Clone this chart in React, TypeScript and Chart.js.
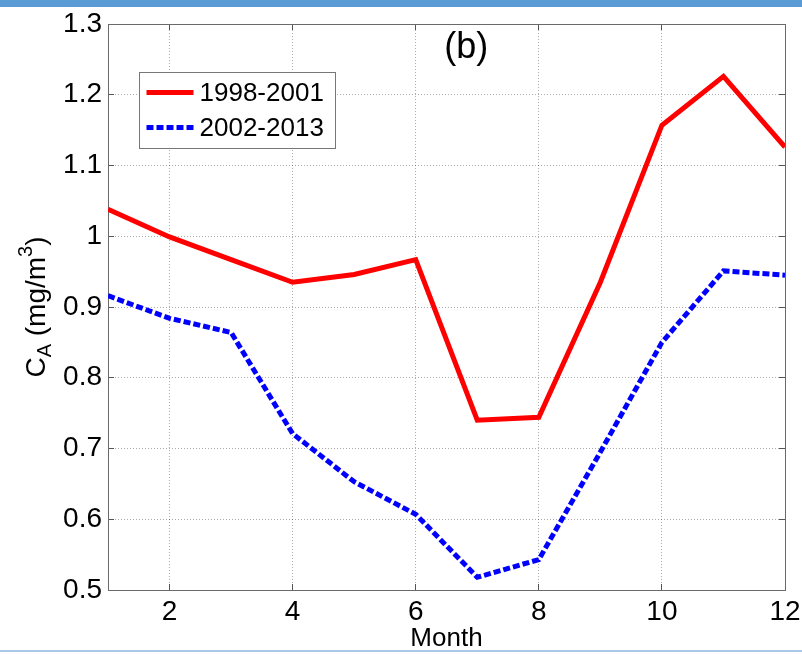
import React, { useEffect, useRef } from "react";
import { Chart, registerables } from "chart.js";

Chart.register(...registerables);

const months = [1, 2, 3, 4, 5, 6, 7, 8, 9, 10, 11, 12];
const series1998 = [1.038, 0.999, 0.967, 0.935, 0.946, 0.967, 0.74, 0.744, 0.935, 1.157, 1.226, 1.126];
const series2002 = [0.916, 0.884, 0.864, 0.721, 0.653, 0.607, 0.518, 0.543, 0.695, 0.85, 0.951, 0.945];
const seriesLabels = ["1998-2001", "2002-2013"];
const xTicks = [2, 4, 6, 8, 10, 12];
const yTicks = [0.5, 0.6, 0.7, 0.8, 0.9, 1.0, 1.1, 1.2, 1.3];
const xTitle = "Month";
const panelLabel = "(b)";
const panelPos = { x: 6.82, y: 1.266 };

const FONT = "'Liberation Sans', Arial, Helvetica, sans-serif";

const overlayPlugin = {
  id: "overlay",
  afterDraw(chart: any) {
    const { ctx, chartArea, scales } = chart;
    ctx.save();
    // Panel label
    ctx.fillStyle = "#000";
    ctx.font = `36px ${FONT}`;
    ctx.textAlign = "center";
    ctx.textBaseline = "middle";
    ctx.fillText(panelLabel, scales.x.getPixelForValue(panelPos.x), scales.y.getPixelForValue(panelPos.y));

    // Legend box
    const lx = chartArea.left + 31.5;
    const ly = chartArea.top + 48.5;
    const lw = 196;
    const lh = 76;
    ctx.fillStyle = "#fff";
    ctx.fillRect(lx, ly, lw, lh);
    ctx.strokeStyle = "#777";
    ctx.lineWidth = 1;
    ctx.setLineDash([]);
    ctx.strokeRect(lx, ly, lw, lh);
    chart.data.datasets.forEach((ds: any, i: number) => {
      const cy = ly + 20 + i * 35;
      ctx.beginPath();
      ctx.strokeStyle = ds.borderColor;
      ctx.lineWidth = ds.borderWidth;
      ctx.setLineDash(ds.borderDash || []);
      ctx.lineCap = "butt";
      ctx.moveTo(lx + 7, cy);
      ctx.lineTo(lx + 54, cy);
      ctx.stroke();
      ctx.setLineDash([]);
      ctx.fillStyle = "#000";
      ctx.font = `26px ${FONT}`;
      ctx.textAlign = "left";
      ctx.textBaseline = "middle";
      ctx.fillText(ds.label, lx + 60, cy + 1);
    });

    // Y axis title with subscript / superscript
    const cy = (chartArea.top + chartArea.bottom) / 2;
    ctx.translate(45, cy);
    ctx.rotate(-Math.PI / 2);
    ctx.textBaseline = "alphabetic";
    ctx.textAlign = "left";
    const big = `28px ${FONT}`;
    const small = `20px ${FONT}`;
    const parts: [string, string, number][] = [
      ["C", big, 0],
      ["A", small, 6],
      [" (mg/m", big, 0],
      ["3", small, -13],
      [")", big, 0],
    ];
    let total = 0;
    parts.forEach(([t, f]) => {
      ctx.font = f;
      total += ctx.measureText(t).width;
    });
    let u = -total / 2;
    ctx.fillStyle = "#000";
    parts.forEach(([t, f, dv]) => {
      ctx.font = f;
      ctx.fillText(t, u, dv);
      u += ctx.measureText(t).width;
    });
    ctx.restore();
  },
};

export default function App() {
  const canvasRef = useRef<HTMLCanvasElement | null>(null);

  useEffect(() => {
    document.body.style.margin = "0";
    const canvas = canvasRef.current;
    if (!canvas) return;
    Chart.defaults.font.family = FONT;
    Chart.defaults.color = "#000";

    const gridCommon = {
      color: "rgba(0,0,0,0.33)",
      lineWidth: 1,
      drawTicks: true,
      tickLength: -6,
      tickColor: "#555",
      tickWidth: 1,
      tickBorderDash: [],
    };
    const borderCommon = { display: true, color: "#6a6a6a", width: 1, dash: [1, 2] };
    const noPad = (s: any) => {
      s.paddingLeft = 0;
      s.paddingRight = 0;
      s.paddingTop = 0;
      s.paddingBottom = 0;
    };

    const chart = new Chart(canvas, {
      type: "line",
      data: {
        datasets: [
          {
            label: seriesLabels[0],
            data: months.map((m, i) => ({ x: m, y: series1998[i] })),
            borderColor: "#ff0000",
            backgroundColor: "#ff0000",
            borderWidth: 5,
            pointRadius: 0,
            tension: 0,
            fill: false,
          },
          {
            label: seriesLabels[1],
            data: months.map((m, i) => ({ x: m, y: series2002[i] })),
            borderColor: "#0000ff",
            backgroundColor: "#0000ff",
            borderWidth: 5,
            borderDash: [7, 3],
            pointRadius: 0,
            tension: 0,
            fill: false,
          },
        ],
      },
      options: {
        animation: false,
        responsive: false,
        maintainAspectRatio: false,
        layout: { padding: { left: 0, right: 17, top: 24, bottom: 0 } },
        plugins: { legend: { display: false }, tooltip: { enabled: false } },
        scales: {
          x: {
            type: "linear",
            position: "bottom",
            min: 1,
            max: 12,
            afterBuildTicks: (s: any) => {
              s.ticks = xTicks.map((v) => ({ value: v }));
            },
            afterFit: (s: any) => {
              s.height = 64;
              noPad(s);
            },
            grid: gridCommon,
            border: borderCommon,
            ticks: {
              font: { size: 28 },
              color: "#000",
              padding: 11,
              maxRotation: 0,
              callback: (v: any) => String(v),
            },
            title: {
              display: true,
              text: xTitle,
              font: { size: 26 },
              color: "#000",
              padding: { top: -2, bottom: 0 },
            },
          },
          x2: {
            type: "linear",
            position: "top",
            min: 1,
            max: 12,
            afterBuildTicks: (s: any) => {
              s.ticks = xTicks.map((v) => ({ value: v }));
            },
            afterFit: (s: any) => {
              s.height = 0;
              noPad(s);
            },
            grid: { ...gridCommon, drawOnChartArea: false },
            border: borderCommon,
            ticks: { display: false },
          },
          y: {
            type: "linear",
            position: "left",
            min: 0.5,
            max: 1.3,
            afterBuildTicks: (s: any) => {
              s.ticks = yTicks.map((v) => ({ value: v }));
            },
            afterFit: (s: any) => {
              s.width = 108;
              noPad(s);
            },
            grid: gridCommon,
            border: borderCommon,
            ticks: {
              font: { size: 28 },
              color: "#000",
              padding: 12,
              callback: (v: any) => String(Number(Number(v).toFixed(1))),
            },
          },
          y2: {
            type: "linear",
            position: "right",
            min: 0.5,
            max: 1.3,
            afterBuildTicks: (s: any) => {
              s.ticks = yTicks.map((v) => ({ value: v }));
            },
            afterFit: (s: any) => {
              s.width = 0;
              noPad(s);
            },
            grid: { ...gridCommon, drawOnChartArea: false },
            border: borderCommon,
            ticks: { display: false },
          },
        },
      } as any,
      plugins: [overlayPlugin],
    });
    return () => chart.destroy();
  }, []);

  return (
    <div style={{ position: "relative", width: 802, height: 654, background: "#fff", overflow: "hidden" }}>
      <canvas ref={canvasRef} width={802} height={654} style={{ display: "block", width: 802, height: 654 }} />
      <div style={{ position: "absolute", left: 0, top: 0, width: 802, height: 7, background: "#5b9bd5" }} />
      <div style={{ position: "absolute", left: 0, top: 650, width: 802, height: 2, background: "#a9c8e8" }} />
    </div>
  );
}
